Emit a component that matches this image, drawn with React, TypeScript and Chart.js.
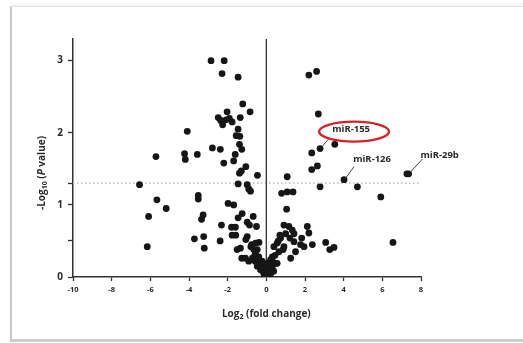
import { useEffect, useRef } from "react";
import { Chart, registerables } from "chart.js";

Chart.register(...registerables);

// Log2 fold change (x) and -log10 P value (y) for each miRNA
const foldChange = [
  -2.86, -2.18, -2.29, -1.46, -1.22, -0.84, -2.03, -2.49, -2.36, -2.26, -2.08, -1.91, -1.77,
  -1.35, -1.46, -1.56, -1.37, -1.39, -1.27, -2.79, -2.38, -1.61, -2.2, -1.69, -1.06, -1.29,
  -1.39, -0.46, -1.46, -0.99, -0.91, -0.82, -1.98, -1.69, -1.25, -1.46, -0.68, -0.99, -0.87,
  -2.32, -1.8, -1.6, -0.51, -1.77, -1.58, -2.39, -0.99, -1.06, -1.34, -1.51, -0.76, -0.55,
  -0.38, -0.65, -0.47, -1.27, -1.08, -0.91, -0.65, -0.39, -0.3, -0.18, -0.09, 0.01, 0.08,
  -0.47, -0.3, -0.13, -0.6, -0.22, -0.05, -0.72, -0.58, -0.42, -0.35, -0.25, -0.16, -0.08,
  -0.02, 0.03, -0.12, -0.8, -0.56,
  -6.56, -5.71, -5.66, -5.18, -6.09, -6.16, -4.09, -4.23, -4.19, -3.57, -3.52, -3.52, -3.27,
  -3.35, -3.72, -3.24, -3.21,
  2.2, 2.6, 2.69, 3.54, 2.78, 2.35, 2.64, 2.35, 2.78, 4.02, 4.71, 5.92, 7.27, 7.36, 6.55,
  1.08, 0.79, 1.08, 1.38, 1.05, 0.91, 1.17, 1.34, 1.43, 1.0, 1.22, 0.74, 1.43, 0.56, 0.91,
  0.39, 0.65, 1.26, 0.31, 0.48, 0.22, 0.05, 1.83, 2.12, 2.2, 1.77, 1.95, 2.38, 3.07, 3.28,
  3.5, 0.3, 0.38, 0.56, 0.13, 0.2, 0.04, 0.12, 0.45, 1.51, 0.87, 0.1, 0.18, 0.26, 0.34,
  0.07, 0.15, 0.62, 0.7,
];
const negLogP = [
  3.0, 3.0, 2.82, 2.77, 2.4, 2.29, 2.29, 2.21, 2.17, 2.11, 2.18, 2.2, 2.15,
  2.21, 2.05, 1.96, 1.95, 1.84, 1.77, 1.79, 1.77, 1.7, 1.58, 1.61, 1.53, 1.47,
  1.44, 1.41, 1.29, 1.28, 1.22, 1.19, 1.02, 1.0, 0.88, 0.82, 0.84, 0.76, 0.72,
  0.72, 0.69, 0.69, 0.7, 0.58, 0.58, 0.5, 0.56, 0.52, 0.4, 0.38, 0.45, 0.47,
  0.48, 0.38, 0.38, 0.26, 0.26, 0.22, 0.24, 0.28, 0.19, 0.15, 0.1, 0.06, 0.01,
  0.15, 0.1, 0.05, 0.3, 0.22, 0.13, 0.26, 0.22, 0.2, 0.14, 0.1, 0.08, 0.04,
  0.03, 0.09, 0.18, 0.42, 0.33,
  1.28, 1.67, 1.07, 0.95, 0.84, 0.42, 2.02, 1.71, 1.63, 1.7, 1.13, 1.08, 0.86,
  0.8, 0.53, 0.56, 0.4,
  2.8, 2.85, 2.26, 1.84, 1.78, 1.72, 1.54, 1.49, 1.25, 1.35, 1.25, 1.11, 1.43, 1.43, 0.48,
  1.39, 1.16, 1.18, 1.18, 0.94, 0.72, 0.7, 0.65, 0.6, 0.6, 0.54, 0.54, 0.49, 0.47, 0.42,
  0.42, 0.35, 0.26, 0.28, 0.19, 0.24, 0.1, 0.54, 0.7, 0.61, 0.45, 0.42, 0.45, 0.48, 0.38,
  0.41, 0.14, 0.08, 0.19, 0.04, 0.02, 0.01, 0.2, 0.3, 0.35, 0.38, 0.05, 0.12, 0.16, 0.21,
  0.03, 0.09, 0.5, 0.58,
];

const xTickValues = [-10, -8, -6, -4, -2, 0, 2, 4, 6, 8];
const yTickValues = [0, 0.5, 1, 1.3, 2, 3];
const yLabelledTicks = [0, 1, 2, 3];
const significanceLevel = 1.301;

const calloutNames = ["miR-155", "miR-126", "miR-29b"];
const calloutFold = [2.78, 4.02, 7.36];
const calloutP = [1.78, 1.35, 1.43];

const FONT = "'Open Sans', 'Noto Sans', 'DejaVu Sans', sans-serif";
const TEXT = "#2a2a2a";

// pixel offsets of leader-line end, label center and ring from the marked point
const calloutStyle = [
  { line: [8, -9], text: [31, -19], ring: [34, -17, 35, 10] },
  { line: [10, -13], text: [28, -20], ring: null },
  { line: [14, -15], text: [31, -18.5], ring: null },
];

type Seg = { t: string; f: string; dy?: number };

function drawRich(ctx: CanvasRenderingContext2D, segs: Seg[], cx: number, cy: number, rot: number) {
  ctx.save();
  ctx.translate(cx, cy);
  ctx.rotate(rot);
  ctx.textBaseline = "middle";
  ctx.textAlign = "left";
  ctx.fillStyle = TEXT;
  let total = 0;
  for (const s of segs) {
    ctx.font = s.f;
    total += ctx.measureText(s.t).width;
  }
  let x = -total / 2;
  for (const s of segs) {
    ctx.font = s.f;
    ctx.fillText(s.t, x, s.dy || 0);
    x += ctx.measureText(s.t).width;
  }
  ctx.restore();
}

const decorPlugin = {
  id: "decor",
  afterDatasetsDraw(chart: any) {
    const { ctx, scales, chartArea } = chart;
    const xs = scales.x;
    const ys = scales.y;
    ctx.save();
    calloutNames.forEach((name, i) => {
      const px = xs.getPixelForValue(calloutFold[i]);
      const py = ys.getPixelForValue(calloutP[i]);
      const st = calloutStyle[i];
      ctx.strokeStyle = "#444";
      ctx.lineWidth = 1;
      ctx.beginPath();
      ctx.moveTo(px + 2, py - 2);
      ctx.lineTo(px + st.line[0], py + st.line[1]);
      ctx.stroke();
      ctx.font = `bold 9.5px ${FONT}`;
      ctx.fillStyle = TEXT;
      ctx.textAlign = "center";
      ctx.textBaseline = "middle";
      ctx.fillText(name, px + st.text[0], py + st.text[1]);
      if (st.ring) {
        ctx.strokeStyle = "#d9202a";
        ctx.lineWidth = 2.4;
        ctx.beginPath();
        ctx.ellipse(px + st.ring[0], py + st.ring[1], st.ring[2], st.ring[3], 0, 0, Math.PI * 2);
        ctx.stroke();
      }
    });
    ctx.restore();

    const bold = `bold 10px ${FONT}`;
    const sub = `bold 7px ${FONT}`;
    drawRich(
      ctx,
      [
        { t: "Log", f: bold },
        { t: "2", f: sub, dy: 3 },
        { t: " (fold change)", f: bold },
      ],
      xs.getPixelForValue(0),
      chartArea.bottom + 37,
      0
    );
    drawRich(
      ctx,
      [
        { t: "-Log", f: bold },
        { t: "10", f: sub, dy: 3 },
        { t: " (", f: bold },
        { t: "P", f: `italic bold 10px ${FONT}` },
        { t: " value)", f: bold },
      ],
      chartArea.left - 31,
      chartArea.top + 134,
      -Math.PI / 2
    );
  },
};

export default function App() {
  const ref = useRef<HTMLCanvasElement | null>(null);

  useEffect(() => {
    if (!ref.current) return;
    const points = foldChange.map((x, i) => ({ x, y: negLogP[i] }));
    const chart = new Chart(ref.current, {
      type: "scatter",
      data: {
        datasets: [
          {
            type: "line",
            data: [
              { x: xTickValues[0], y: significanceLevel },
              { x: xTickValues[xTickValues.length - 1], y: significanceLevel },
            ],
            borderColor: "#c4c4c4",
            borderWidth: 1.6,
            borderDash: [1.5, 2.5],
            pointRadius: 0,
            order: 3,
          } as any,
          {
            type: "line",
            data: [
              { x: 0, y: 0 },
              { x: 0, y: 3.3 },
            ],
            borderColor: "#3a3a3a",
            borderWidth: 1.4,
            pointRadius: 0,
            order: 2,
          } as any,
          {
            data: points,
            backgroundColor: "#161616",
            borderWidth: 0,
            pointRadius: 3.4,
            order: 1,
          },
        ],
      },
      options: {
        responsive: false,
        animation: false,
        devicePixelRatio: 1,
        layout: { padding: { left: 0, top: 39, right: 102, bottom: 0 } },
        plugins: {
          legend: { display: false },
          tooltip: { enabled: false },
        },
        scales: {
          x: {
            type: "linear",
            min: -10,
            max: 8,
            afterBuildTicks: (s: any) => {
              s.ticks = xTickValues.map((v) => ({ value: v }));
            },
            afterFit: (s: any) => {
              s.height = 66;
            },
            ticks: {
              font: { family: FONT, size: 7.5, weight: "bold" },
              color: TEXT,
              padding: 4,
              maxRotation: 0,
              autoSkip: false,
            },
            grid: {
              drawOnChartArea: false,
              drawTicks: true,
              tickLength: 4,
              tickColor: "#333",
              tickWidth: 1.3,
            },
            border: { color: "#333", width: 1.5 },
          },
          y: {
            type: "linear",
            min: 0,
            max: 3.3,
            afterBuildTicks: (s: any) => {
              s.ticks = yTickValues.map((v) => ({ value: v }));
            },
            afterFit: (s: any) => {
              s.width = 73;
            },
            ticks: {
              font: { family: FONT, size: 10, weight: "bold" },
              color: TEXT,
              padding: 5,
              autoSkip: false,
              callback: (v: any) => (yLabelledTicks.includes(Number(v)) ? String(v) : ""),
            },
            grid: {
              drawOnChartArea: false,
              drawTicks: true,
              tickLength: 5,
              tickColor: "#333",
              tickWidth: 1.3,
            },
            border: { color: "#333", width: 1.5 },
          },
        },
      },
      plugins: [decorPlugin],
    } as any);
    return () => chart.destroy();
  }, []);

  return (
    <div style={{ position: "fixed", left: 0, top: 0, width: 523, height: 343, background: "#fff", overflow: "hidden" }}>
      <div
        style={{
          position: "absolute",
          left: 10,
          top: 6,
          width: 620,
          height: 332,
          borderLeft: "2px solid #c9c9c9",
          borderTop: "1px solid #e4e4e4",
          borderBottom: "3px solid #cdcdcd",
          boxShadow: "0 -2px 3px rgba(0,0,0,0.06)",
          background: "#fff",
        }}
      />
      <canvas ref={ref} width={523} height={343} style={{ position: "absolute", left: 0, top: 0, width: 523, height: 343 }} />
    </div>
  );
}
